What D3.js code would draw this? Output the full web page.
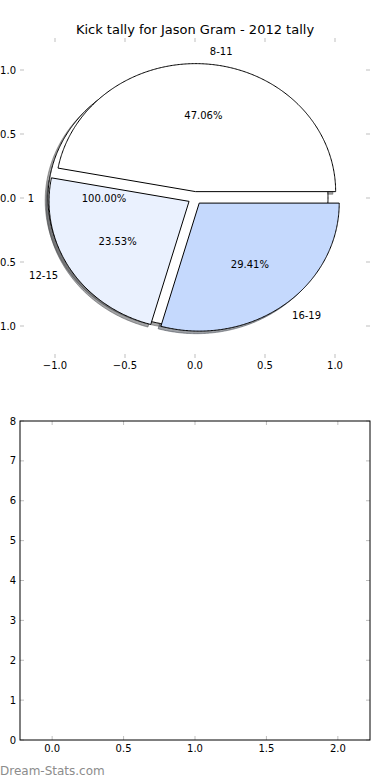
<!DOCTYPE html>
<html>
<head>
<meta charset="utf-8">
<script src="https://cdn.jsdelivr.net/npm/d3@7"></script>
<style>
  body { margin: 0; background: #fff; }
  svg { display: block; font-family: "DejaVu Sans", sans-serif; }
</style>
</head>
<body>
<svg id="chart"></svg>
<script>
// pie data
var labels = ["8-11", "12-15", "16-19"];
var counts = [8, 4, 5];
var colors = ["#ffffff", "#eaf1fe", "#c5d9fd"];
// the extra single-value pie drawn underneath
var extraLabels = ["1"];
var extraCounts = [1];
var explode = 0.05;

// tick labels
var pieTicks = [-1.0, -0.5, 0.0, 0.5, 1.0];
var barXTicks = [0.0, 0.5, 1.0, 1.5, 2.0];
var barYTicks = [0, 1, 2, 3, 4, 5, 6, 7, 8];

var svgWidth = 390, svgHeight = 780;
var svg = d3.select("#chart").attr("width", svgWidth).attr("height", svgHeight);

// ---- top axes (pie) ----
var x = d3.scaleLinear().domain([-1.25, 1.25]).range([20, 370]);
var y = d3.scaleLinear().domain([-1.25, 1.25]).range([358, 38]);

svg.append("text")
  .attr("x", 195).attr("y", 34)
  .attr("text-anchor", "middle")
  .attr("font-size", 13)
  .text("Kick tally for Jason Gram - 2012 tally");

var line = d3.line().x(function(d) { return x(d[0]); }).y(function(d) { return y(d[1]); });

function wedgePoints(cx, cy, t1, t2, full) {
  var pts = [];
  if (!full) pts.push([cx, cy]);
  var n = Math.max(8, Math.ceil((t2 - t1) / 0.01));
  for (var i = 0; i <= n; i++) {
    var t = t1 + (t2 - t1) * i / n;
    pts.push([cx + Math.cos(t), cy + Math.sin(t)]);
  }
  return pts;
}

function makeWedges(vals) {
  var total = d3.sum(vals);
  var out = [], acc = 0;
  vals.forEach(function(v, i) {
    var t1 = acc / total * 2 * Math.PI;
    acc += v;
    var t2 = acc / total * 2 * Math.PI;
    var tm = (t1 + t2) / 2;
    out.push({
      i: i, t1: t1, t2: t2, tm: tm,
      cx: explode * Math.cos(tm), cy: explode * Math.sin(tm),
      frac: v / total,
      full: Math.abs(t2 - t1 - 2 * Math.PI) < 1e-9
    });
  });
  return out;
}

var extra = makeWedges(extraCounts);
var main = makeWedges(counts);

function shade(c) {
  var r = d3.rgb(c);
  return d3.rgb(r.r * 0.3, r.g * 0.3, r.b * 0.3).toString();
}

var pieG = svg.append("g");

// shadows first (below every wedge)
function drawShadows(ws, cols) {
  ws.forEach(function(w) {
    var pts = wedgePoints(w.cx - 0.02, w.cy - 0.02, w.t1, w.t2, w.full);
    var c = shade(cols[w.i]);
    pieG.append("path")
      .attr("d", line(pts) + "Z")
      .attr("fill", c).attr("fill-opacity", 0.5)
      .attr("stroke", c).attr("stroke-opacity", 0.5)
      .attr("stroke-width", 1);
  });
}
drawShadows(extra, ["#ffffff"]);
drawShadows(main, colors);

function drawWedges(ws, cols) {
  ws.forEach(function(w) {
    var pts = wedgePoints(w.cx, w.cy, w.t1, w.t2, w.full);
    pieG.append("path")
      .attr("d", line(pts) + "Z")
      .attr("fill", cols[w.i])
      .attr("stroke", "#000")
      .attr("stroke-width", 1)
      .attr("stroke-linejoin", "miter");
  });
}
drawWedges(extra, ["#ffffff"]);
drawWedges(main, colors);

function drawLabels(ws, labs) {
  ws.forEach(function(w) {
    var lx = w.cx + 1.1 * Math.cos(w.tm);
    var ly = w.cy + 1.1 * Math.sin(w.tm);
    pieG.append("text")
      .attr("x", x(lx)).attr("y", y(ly))
      .attr("dy", "0.35em")
      .attr("text-anchor", lx > 0 ? "start" : "end")
      .attr("font-size", 10)
      .text(labs[w.i]);
    var px = w.cx + 0.6 * Math.cos(w.tm);
    var py = w.cy + 0.6 * Math.sin(w.tm);
    pieG.append("text")
      .attr("x", x(px)).attr("y", y(py))
      .attr("dy", "0.35em")
      .attr("text-anchor", "middle")
      .attr("font-size", 10)
      .text(d3.format(".2f")(w.frac * 100) + "%");
  });
}
drawLabels(extra, extraLabels);
drawLabels(main, labels);

// ticks of the frameless pie axes
var tickColor = "#bfbfbf";
var fmt = function(d) { return d3.format(".1f")(d).replace("-", "\u2212"); };
pieTicks.forEach(function(t) {
  svg.append("line").attr("x1", x(t)).attr("x2", x(t)).attr("y1", 38).attr("y2", 42)
    .attr("stroke", tickColor);
  svg.append("line").attr("x1", x(t)).attr("x2", x(t)).attr("y1", 358).attr("y2", 354)
    .attr("stroke", tickColor);
  svg.append("line").attr("x1", 20).attr("x2", 24).attr("y1", y(t)).attr("y2", y(t))
    .attr("stroke", tickColor);
  svg.append("line").attr("x1", 370).attr("x2", 366).attr("y1", y(t)).attr("y2", y(t))
    .attr("stroke", tickColor);
  svg.append("text").attr("x", x(t)).attr("y", 369).attr("text-anchor", "middle")
    .attr("font-size", 10).text(fmt(t));
  svg.append("text").attr("x", 16).attr("y", y(t)).attr("dy", "0.35em")
    .attr("text-anchor", "end").attr("font-size", 10).text(fmt(t));
});

// ---- bottom axes (empty) ----
var bx = d3.scaleLinear().domain([-0.225, 2.225]).range([20, 370]);
var by = d3.scaleLinear().domain([0, 8]).range([740, 421]);

var bg = svg.append("g");
barXTicks.forEach(function(t) {
  bg.append("line").attr("x1", bx(t)).attr("x2", bx(t)).attr("y1", 421).attr("y2", 425)
    .attr("stroke", tickColor);
  bg.append("line").attr("x1", bx(t)).attr("x2", bx(t)).attr("y1", 740).attr("y2", 736)
    .attr("stroke", tickColor);
  bg.append("text").attr("x", bx(t)).attr("y", 752).attr("text-anchor", "middle")
    .attr("font-size", 10).text(d3.format(".1f")(t));
});
barYTicks.forEach(function(t) {
  bg.append("line").attr("x1", 20).attr("x2", 24).attr("y1", by(t)).attr("y2", by(t))
    .attr("stroke", tickColor);
  bg.append("line").attr("x1", 370).attr("x2", 366).attr("y1", by(t)).attr("y2", by(t))
    .attr("stroke", tickColor);
  bg.append("text").attr("x", 16).attr("y", by(t)).attr("dy", "0.35em")
    .attr("text-anchor", "end").attr("font-size", 10).text(t);
});
bg.append("rect")
  .attr("x", 20).attr("y", 421).attr("width", 350).attr("height", 319)
  .attr("fill", "none").attr("stroke", "#000").attr("stroke-width", 1);

// watermark
svg.append("text")
  .attr("x", 0).attr("y", 775)
  .attr("font-size", 12)
  .attr("fill", "#8c8c8c")
  .text("Dream-Stats.com");
</script>
</body>
</html>
